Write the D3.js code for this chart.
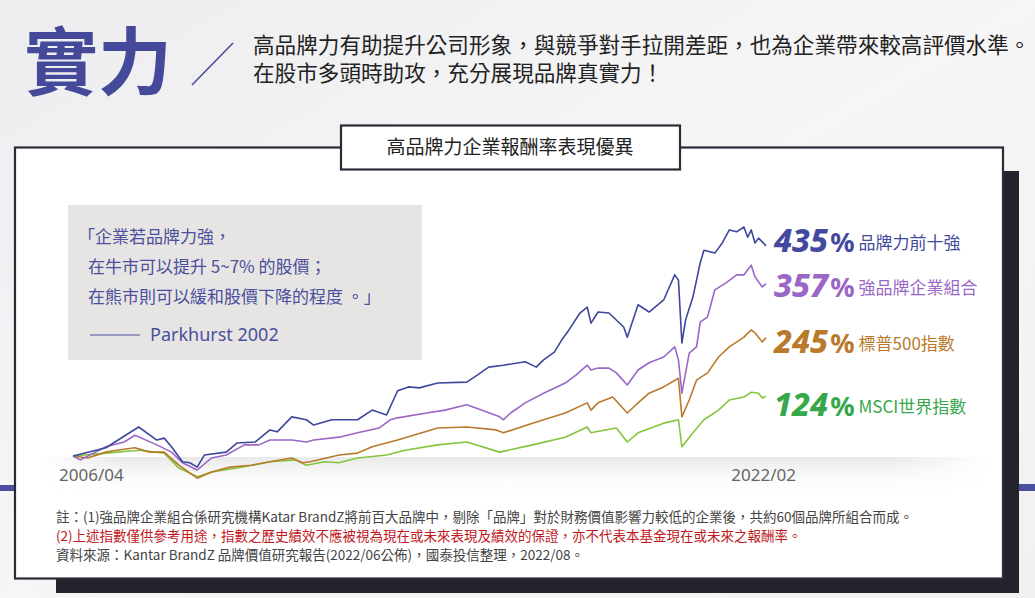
<!DOCTYPE html>
<html><head><meta charset="utf-8">
<script src="https://cdn.jsdelivr.net/npm/d3@7/dist/d3.min.js"></script>
<style>
html,body{margin:0;padding:0;background:#f2f2f3;}
svg{display:block;font-family:"Noto Sans CJK TC","Noto Sans",sans-serif;}
</style></head><body>
<svg id="c" width="1035" height="598"></svg>
<script>
// ---------- data (cumulative return %) ----------
const seriesNames = ["品牌力前十強","強品牌企業組合","標普500指數","MSCI世界指數"];
const finalReturns = [435, 357, 245, 124];
const xTickLabels = ["2006/04","2022/02"];
const dateStart = "2006-04", dateEnd = "2022-02";

const top10 = [["2006-04",0],["2007-01",17],["2007-10",60],["2008-03",33],["2008-05",37],["2008-07",19],["2008-10",-12],["2008-12",-14],["2009-02",-23],["2009-04",2],["2009-10",8],["2010-01",27],["2010-06",29],["2010-10",54],["2010-12",50],["2011-04",81],["2011-08",75],["2011-10",64],["2012-03",75],["2012-10",75],["2013-02",95],["2013-06",85],["2013-09",135],["2013-12",143],["2014-03",141],["2014-08",151],["2015-04",153],["2015-07",168],["2015-10",184],["2016-02",188],["2016-08",195],["2016-11",184],["2017-01",199],["2017-04",215],["2017-06",240],["2017-08",261],["2017-11",296],["2018-01",308],["2018-02",275],["2018-04",298],["2018-07",296],["2018-11",267],["2018-12",246],["2019-03",313],["2019-06",298],["2019-10",323],["2020-01",375],["2020-02",364],["2020-03",234],["2020-04",282],["2020-06",329],["2020-07",364],["2020-08",400],["2020-09",426],["2020-12",420],["2021-02",441],["2021-04",468],["2021-06",464],["2021-08",474],["2021-09",453],["2021-10",468],["2021-11",441],["2021-12",451],["2022-02",435]];

const strongBrands = [["2006-04",0],["2006-06",-8],["2007-01",19],["2007-06",29],["2007-09",43],["2008-03",23],["2008-07",8],["2008-10",-14],["2009-02",-29],["2009-06",-4],["2009-10",2],["2010-03",23],["2010-07",23],["2010-10",33],["2011-04",33],["2011-08",29],["2011-10",33],["2012-05",39],["2012-10",48],["2013-04",58],["2013-07",75],["2013-09",79],["2014-05",89],["2014-10",95],["2015-04",106],["2015-08",95],["2016-01",81],["2016-02",75],["2016-04",89],["2016-08",110],["2017-01",130],["2017-07",151],["2017-10",168],["2018-01",188],["2018-02",178],["2018-04",182],["2018-07",182],["2018-09",172],["2018-12",147],["2019-03",178],["2019-06",193],["2019-10",205],["2020-01",226],["2020-02",199],["2020-03",130],["2020-05",213],["2020-07",226],["2020-08",277],["2020-10",288],["2020-12",344],["2021-03",358],["2021-06",375],["2021-08",375],["2021-10",395],["2021-11",371],["2022-01",350],["2022-02",357]];

const sp500 = [["2006-04",0],["2006-08",-4],["2007-01",8],["2007-04",12],["2007-09",17],["2008-01",8],["2008-05",8],["2008-09",-19],["2008-12",-35],["2009-02",-46],["2009-06",-33],["2009-11",-23],["2010-05",-19],["2010-10",-12],["2011-04",-4],["2011-07",-14],["2011-09",-12],["2012-05",2],["2012-10",6],["2013-02",19],["2013-09",33],["2014-08",58],["2015-04",60],["2015-12",54],["2016-02",48],["2016-10",68],["2017-07",89],["2018-01",110],["2018-02",95],["2018-04",110],["2018-08",122],["2018-12",89],["2019-03",110],["2019-06",130],["2019-10",143],["2020-02",161],["2020-03",81],["2020-05",116],["2020-07",157],["2020-10",172],["2021-01",205],["2021-04",226],["2021-08",246],["2021-10",261],["2021-11",255],["2022-01",236],["2022-02",245]];

const msciWorld = [["2006-04",0],["2007-01",6],["2007-10",12],["2008-05",6],["2008-09",-25],["2009-02",-43],["2009-06",-33],["2010-01",-25],["2010-10",-12],["2011-05",-8],["2011-08",-19],["2012-01",-12],["2012-05",-14],["2012-10",-4],["2013-06",2],["2013-11",12],["2014-08",23],["2015-04",29],["2016-01",8],["2016-10",23],["2017-07",39],["2018-01",60],["2018-02",48],["2018-06",54],["2018-09",58],["2018-12",29],["2019-03",48],["2019-10",68],["2020-02",75],["2020-03",19],["2020-06",48],["2020-09",75],["2021-01",95],["2021-04",116],["2021-08",122],["2021-10",132],["2021-12",130],["2022-01",120],["2022-02",124]];

const seriesData = [top10, strongBrands, sp500, msciWorld];
const lineColors = ["#3e479b","#9a67c6","#b97a2c","#85c43d"];
const labelColors = ["#434a9e","#9a67c6","#b97a2c","#36a84a"];

// ---------- drawing ----------
const svg = d3.select("#c");
const defs = svg.append("defs");
const parse = d3.timeParse("%Y-%m");

const bg = defs.append("linearGradient").attr("id","bg").attr("x1","0").attr("y1","0").attr("x2","1").attr("y2","1");
bg.append("stop").attr("offset","0").attr("stop-color","#ededef");
bg.append("stop").attr("offset","0.5").attr("stop-color","#f6f6f7");
bg.append("stop").attr("offset","1").attr("stop-color","#f1f1f2");
svg.append("rect").attr("width",1035).attr("height",598).attr("fill","url(#bg)");

// title
svg.append("text").attr("x",24).attr("y",89).attr("fill","#44499a")
  .style("font-family","'Noto Sans CJK TC'").style("font-weight",700).style("font-size","74px").text("實力");
svg.append("line").attr("x1",192).attr("y1",85).attr("x2",233).attr("y2",43).attr("stroke","#44499a").attr("stroke-width",1.5);
svg.append("text").attr("x",253).attr("y",53).attr("fill","#222").style("font-size","21.6px")
  .text("高品牌力有助提升公司形象，與競爭對手拉開差距，也為企業帶來較高評價水準。");
svg.append("text").attr("x",253).attr("y",81).attr("fill","#222").style("font-size","21.6px")
  .text("在股市多頭時助攻，充分展現品牌真實力！");

// accent bars
svg.append("rect").attr("x",0).attr("y",485).attr("width",15).attr("height",6).attr("fill","#4a4fa0");
svg.append("rect").attr("x",1019).attr("y",484).attr("width",16).attr("height",7).attr("fill","#4a4fa0");

// frame shadow + frame
svg.append("rect").attr("x",56).attr("y",171).attr("width",963).attr("height",422).attr("fill","#23222d");
svg.append("rect").attr("x",15).attr("y",147.5).attr("width",988).attr("height",431).attr("fill","#fff")
  .attr("stroke","#2b2a36").attr("stroke-width",2.2);

// floor band
const fb = defs.append("linearGradient").attr("id","fb").attr("x1","0").attr("y1","0").attr("x2","0").attr("y2","1");
fb.append("stop").attr("offset","0").attr("stop-color","#e9e9e9").attr("stop-opacity",1);
fb.append("stop").attr("offset","1").attr("stop-color","#ffffff").attr("stop-opacity",0);
const fm = defs.append("linearGradient").attr("id","fm").attr("x1","0").attr("y1","0").attr("x2","1").attr("y2","0");
fm.append("stop").attr("offset","0").attr("stop-color","#fff").attr("stop-opacity",0);
fm.append("stop").attr("offset","0.08").attr("stop-color","#fff").attr("stop-opacity",1);
fm.append("stop").attr("offset","0.9").attr("stop-color","#fff").attr("stop-opacity",1);
fm.append("stop").attr("offset","1").attr("stop-color","#fff").attr("stop-opacity",0);
defs.append("mask").attr("id","fmask").append("rect").attr("x",40).attr("y",455).attr("width",950).attr("height",45).attr("fill","url(#fm)");
svg.append("rect").attr("x",40).attr("y",457).attr("width",950).attr("height",40).attr("fill","url(#fb)").attr("mask","url(#fmask)");

// title box
svg.append("rect").attr("x",341).attr("y",125.5).attr("width",339).attr("height",44).attr("fill","#fff")
  .attr("stroke","#2b2a36").attr("stroke-width",2.2);
svg.append("text").attr("x",510).attr("y",154).attr("text-anchor","middle").attr("fill","#222")
  .style("font-size","19px").text("高品牌力企業報酬率表現優異");

// quote box
svg.append("rect").attr("x",68).attr("y",205).attr("width",354).attr("height",155).attr("fill","#e6e5e4");
const qc = "#4b4f9d";
const q = [["「企業若品牌力強，",78,243],["在牛市可以提升 5~7% 的股價；",88,273],["在熊市則可以緩和股價下降的程度 。」",88,303]];
q.forEach(d=>svg.append("text").attr("x",d[1]).attr("y",d[2]).attr("fill",qc).style("font-size","17px").text(d[0]));
svg.append("line").attr("x1",90).attr("x2",140).attr("y1",335).attr("y2",335).attr("stroke",qc).attr("stroke-width",1.2);
svg.append("text").attr("x",150).attr("y",341).attr("fill",qc).style("font-size","18px").style("font-family","'Noto Sans'").text("Parkhurst 2002");

// scales
const x = d3.scaleTime().domain([parse(dateStart), parse(dateEnd)]).range([73, 766]);
const y = d3.scaleLinear().domain([0, 435]).range([456, 456 - 435/2.07]);
const line = d3.line().x(d=>x(parse(d[0]))).y(d=>y(d[1]));

// draw order: green, orange, purple, blue on top
[3,2,1,0].forEach(i=>{
  svg.append("path").datum(seriesData[i]).attr("d",line).attr("fill","none")
    .attr("stroke",lineColors[i]).attr("stroke-width",1.6).attr("stroke-linejoin","round");
});

// x tick labels
svg.append("text").attr("x",x(parse(dateStart))-14).attr("y",481).attr("fill","#666").style("font-size","17px").style("font-family","'Noto Sans'").text(xTickLabels[0]);
svg.append("text").attr("x",x(parse(dateEnd))+30).attr("y",481).attr("text-anchor","end").attr("fill","#666").style("font-size","17px").style("font-family","'Noto Sans'").text(xTickLabels[1]);

// end labels
const labelDy = [6, 13, 15, 20];
seriesNames.forEach((n,i)=>{
  const last = seriesData[i][seriesData[i].length-1];
  const t = svg.append("text").attr("x",x(parse(last[0]))+8).attr("y",y(last[1])+labelDy[i]).attr("fill",labelColors[i]);
  t.append("tspan").style("font-family","'Noto Sans'").style("font-weight",800).style("font-style","italic").style("font-size","32px").text(finalReturns[i]);
  t.append("tspan").attr("dx",2).style("font-family","'Noto Sans'").style("font-weight",700).style("font-size","27px").text("%");
  t.append("tspan").attr("dx",4).attr("dy",-3).style("font-size","17px").text(n);
});

// footnotes
svg.append("text").attr("x",56).attr("y",522).attr("fill","#444").style("font-size","13.5px")
  .text("註：(1)強品牌企業組合係研究機構Katar BrandZ將前百大品牌中，剔除「品牌」對於財務價值影響力較低的企業後，共約60個品牌所組合而成。");
svg.append("text").attr("x",56).attr("y",541).attr("fill","#c0171d").style("font-size","13.5px")
  .text("(2)上述指數僅供參考用途，指數之歷史績效不應被視為現在或未來表現及績效的保證，亦不代表本基金現在或未來之報酬率。");
svg.append("text").attr("x",56).attr("y",560).attr("fill","#444").style("font-size","13.5px")
  .text("資料來源：Kantar BrandZ 品牌價值研究報告(2022/06公佈)，國泰投信整理，2022/08。");
</script></body></html>
